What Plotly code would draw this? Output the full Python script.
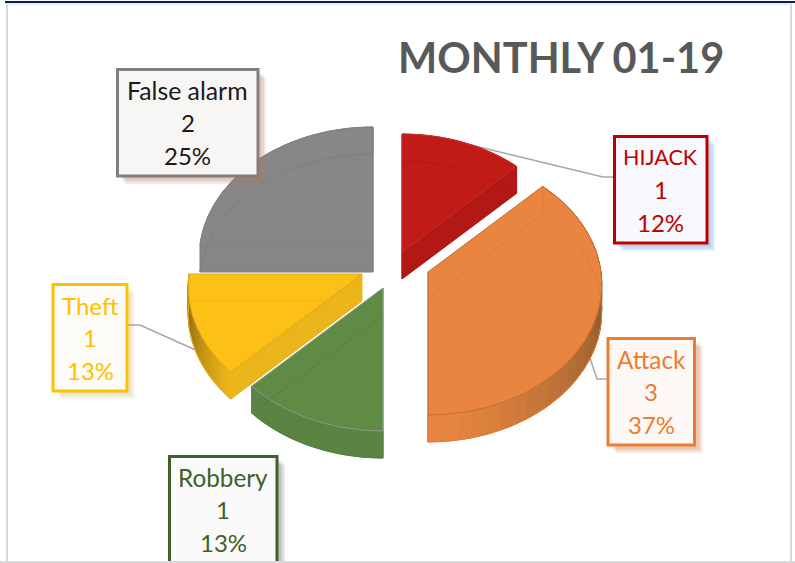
import numpy as np
import plotly.graph_objects as go

# ---- data ----
categories = ["HIJACK", "Attack", "Robbery", "Theft", "False alarm"]
values = [1, 3, 1, 1, 2]
percent_labels = ["12%", "37%", "13%", "13%", "25%"]
title_text = "MONTHLY 01-19"

# ---- appearance ----
W, H = 795, 563
PIE_CENTER = (395, 262)
PULL = {"HIJACK": (7, -10), "Attack": (33, 10), "Robbery": (-12, 26),
        "Theft": (-33, 12), "False alarm": (-22, -17)}
TOP = {"HIJACK": "#C11B17", "Attack": "#E98540", "Robbery": "#5F8B45",
       "Theft": "#FDC016", "False alarm": "#878787"}
CUT = {"HIJACK": "#B21814", "Attack": "#E98540", "Robbery": "#5F8345",
       "Theft": "#EAB41C", "False alarm": "#868686"}
WALL = {"HIJACK": ("#B21814", "#B21814"), "Attack": ("#85562A", "#E5853F"),
        "Robbery": ("#5B8342", "#5B8342"), "Theft": ("#F0B71A", "#6E5410"),
        "False alarm": ("#858585", "#858585")}
EDGE = {"HIJACK": "#C8302C", "Attack": "#C8702C", "Robbery": "#8C9A86",
        "Theft": "#E0AC14", "False alarm": "#808080"}
INNER = {"HIJACK": "#B5161A", "Attack": "#E07C38", "Robbery": "#587F40",
         "Theft": "#F0B514", "False alarm": "#7F7F7F"}
DRAW_ORDER = ["False alarm", "HIJACK", "Attack", "Robbery", "Theft"]
BOX = {  # x0, x1, y0, y1, border, fill, text, shadow, name font size
    "False alarm": (117.5, 258, 69.5, 176, "#7F7F7F", "#F8F6F4", "#1A1A1A", "rgba(190,120,80,0.16)", 24.8),
    "HIJACK": (614.5, 707, 136.5, 243, "#C00000", "#F8F9FD", "#C00000", "rgba(90,150,210,0.16)", 21.5),
    "Attack": (608, 694.5, 338.5, 445, "#ED7D31", "#FCF8F5", "#ED7D31", "rgba(200,120,70,0.16)", 24.3),
    "Theft": (53, 127, 284.5, 391, "#FFC000", "#FDFCF8", "#FFC000", "rgba(190,170,110,0.12)", 24),
    "Robbery": (169.5, 277, 456.5, 568, "#3F6026", "#FAFAFA", "#3F6026", "rgba(80,80,80,0.13)", 24.3),
}
LEADERS = {"HIJACK": ([463, 603, 614], [143, 177, 177]),
           "Attack": ([588, 597, 608], [352, 379, 379]),
           "Theft": ([127, 140, 200], [325, 325, 352])}
B, A, K, DEPTH = 173.0, 129.3, 0.0958, 27


def project(theta, cx, cy):
    u, v = np.sin(theta), np.cos(theta)
    d = 1 + K * v
    return cx + B * u / d, cy - A * v / d


def mix(c1, c2, t):
    a = [int(c1[i:i + 2], 16) for i in (1, 3, 5)]
    b = [int(c2[i:i + 2], 16) for i in (1, 3, 5)]
    return "#%02X%02X%02X" % tuple(round(p + (q - p) * t) for p, q in zip(a, b))


fig = go.Figure()


def poly(x, y, fill, name, seam=0):
    fig.add_trace(go.Scatter(x=list(x), y=list(y), mode="lines", fill="toself", fillcolor=fill,
                             line=dict(width=seam, color=fill), name=name, hoverinfo="name",
                             showlegend=False))


def outline(x, y, color, width, name):
    fig.add_trace(go.Scatter(x=list(x), y=list(y), mode="lines", line=dict(width=width, color=color),
                             name=name, hoverinfo="skip", showlegend=False))


fractions = np.cumsum([0] + values) / sum(values)
for name in DRAW_ORDER:
    i = categories.index(name)
    t0, t1 = 2 * np.pi * fractions[i], 2 * np.pi * fractions[i + 1]
    cx, cy = PIE_CENTER[0] + PULL[name][0], PIE_CENTER[1] + PULL[name][1]
    th = np.linspace(t0, t1, 121)
    ux, uy = project(th, cx, cy)
    lx, ly = project(th, cx, cy + DEPTH)
    # lower wedge
    poly(np.r_[cx, lx, cx], np.r_[cy + DEPTH, ly, cy + DEPTH], TOP[name], name)
    # curved wall, shaded along the arc
    n = 30
    edges = np.linspace(0, 120, n + 1).astype(int)
    for s in range(n):
        a0, a1 = edges[s], edges[s + 1] + 1
        frac = (s + 0.5) / n
        if name == "Attack":
            frac = np.clip((np.degrees(th[a0]) - 95) / 75, 0, 1) ** 0.8
        col = mix(WALL[name][0], WALL[name][1], frac)
        poly(np.r_[ux[a0:a1], lx[a0:a1][::-1]], np.r_[uy[a0:a1], ly[a0:a1][::-1]], col, name, seam=1)
    # flat cut faces
    for ex, ey, elx, ely in ((ux[0], uy[0], lx[0], ly[0]), (ux[-1], uy[-1], lx[-1], ly[-1])):
        poly([cx, ex, elx, cx], [cy, ey, ely, cy + DEPTH], CUT[name], name)
    # upper wedge
    poly(np.r_[cx, ux, cx], np.r_[cy, uy, cy], TOP[name], name)
    # see-through construction lines of the lower wedge
    outline(np.r_[cx, lx, cx], np.r_[cy + DEPTH, ly, cy + DEPTH], INNER[name], 1, name)
    outline([cx, cx], [cy, cy + DEPTH], INNER[name], 1, name)
    outline([ux[0], lx[0]], [uy[0], ly[0]], INNER[name], 1, name)
    outline([ux[-1], lx[-1]], [uy[-1], ly[-1]], INNER[name], 1, name)
    outline(np.r_[cx, ux, cx], np.r_[cy, uy, cy], EDGE[name], 1, name)

shapes = []
for name, (lxs, lys) in LEADERS.items():
    path = "M " + " L ".join(f"{a},{b}" for a, b in zip(lxs, lys))
    shapes.append(dict(type="path", path=path, line=dict(color="#A6A6A6", width=1.5), layer="below"))

annotations = []
for name, (x0, x1, y0, y1, border, fill, text, shadow, size) in BOX.items():
    for off in (3, 5, 7):
        shapes.append(dict(type="rect", x0=x0 + off + 1, x1=x1 + off + 1, y0=y0 + off + 1, y1=y1 + off + 1,
                           line=dict(width=0), fillcolor=shadow, layer="above"))
    shapes.append(dict(type="rect", x0=x0, x1=x1, y0=y0, y1=y1, line=dict(color=border, width=3),
                       fillcolor=fill, layer="above"))
    i = categories.index(name)
    xc = (x0 + x1) / 2
    for off, t, fs in zip((20.5, 53, 85.5), (name, str(values[i]), percent_labels[i]), (size, 24, 24)):
        annotations.append(dict(x=xc, y=y0 + off, text=t, showarrow=False, xanchor="center", yanchor="middle",
                                font=dict(family="Lato", size=fs, color=text)))

annotations.append(dict(x=560.5, y=57, text=f"<b>{title_text}</b>", showarrow=False, xanchor="center",
                        yanchor="middle", font=dict(family="Lato", size=41.5, color="#595959")))

# page frame
shapes += [
    dict(type="line", x0=7, x1=7, y0=3, y1=563, line=dict(color="#D9D9D9", width=2), layer="above"),
    dict(type="line", x0=791, x1=791, y0=3, y1=563, line=dict(color="#D9D9D9", width=2), layer="above"),
    dict(type="line", x0=6, x1=792, y0=4, y1=4, line=dict(color="#E4E4E4", width=1.5), layer="above"),
    dict(type="rect", x0=0, x1=W, y0=561, y1=563, line=dict(width=0), fillcolor="#D9D9D9", layer="above"),
    dict(type="line", x0=5, x1=W, y0=2, y1=2, line=dict(color="#002060", width=2), layer="above"),
]

fig.update_layout(
    width=W, height=H, margin=dict(l=0, r=0, t=0, b=0), paper_bgcolor="white", plot_bgcolor="white",
    showlegend=False, shapes=shapes, annotations=annotations,
    xaxis=dict(range=[0, W], visible=False, fixedrange=True),
    yaxis=dict(range=[H, 0], visible=False, fixedrange=True),
)
fig.write_html("out.html", config=dict(displayModeBar=False),
               default_width=f"{W}px", default_height=f"{H}px",
               post_script="document.body.style.margin='0';")
